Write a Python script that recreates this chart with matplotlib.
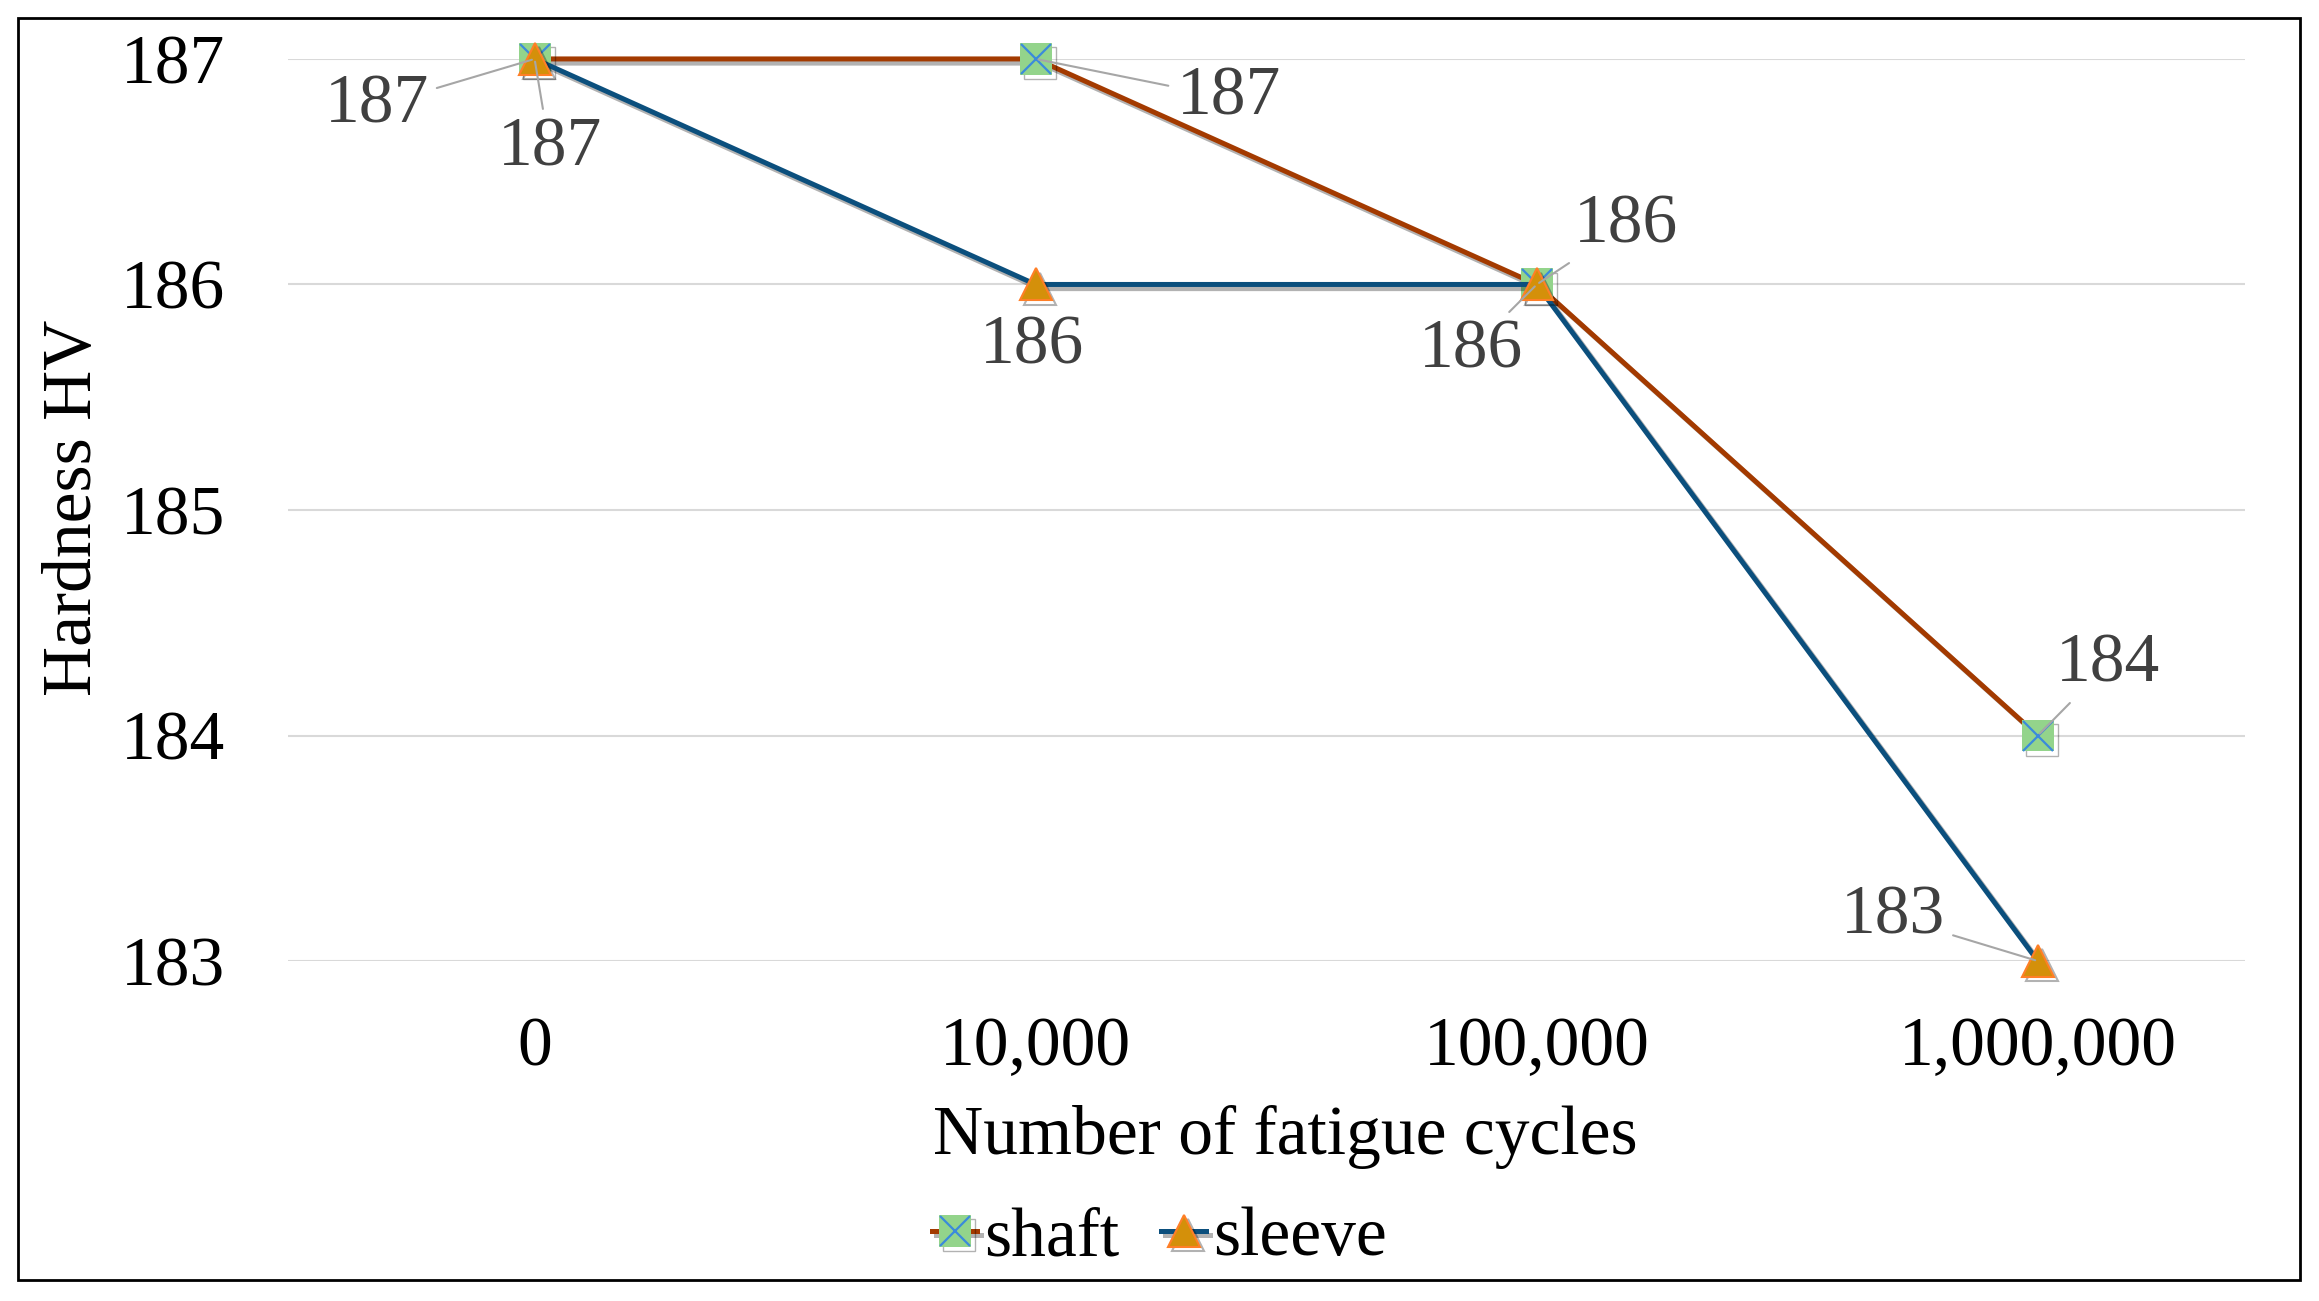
from matplotlib import pyplot as plt
from matplotlib import patheffects as pe
from matplotlib.patches import Rectangle
from matplotlib.legend_handler import HandlerTuple

cycles = ['0', '10,000', '100,000', '1,000,000']
shaft = [187, 187, 186, 184]
sleeve = [187, 186, 186, 183]

# label offsets in pixels (text centre relative to the point)
shaft_offsets = [(-158, -47), (193, -39), (89, 59), (70, 71)]
sleeve_offsets = [(15, -90), (-4, -62), (-66, -66), (-145, 44)]

plt.rcParams['font.family'] = ['Liberation Serif', 'DejaVu Serif']

fig = plt.figure(figsize=(23.19, 13.01), dpi=100)
ax = fig.add_axes([0.124, 0.2613, 0.844, 0.6934])

shadow = [pe.SimpleLineShadow(offset=(3, -3), shadow_color='black', alpha=0.3), pe.Normal()]

x = list(range(len(cycles)))
shaft_line, = ax.plot(x, shaft, color='#A33A00', lw=3.6, marker='s', ms=23,
                      mfc='#93D48B', mec='none', zorder=3, path_effects=shadow, clip_on=False)
shaft_x, = ax.plot(x, shaft, ls='none', marker='x', ms=21, mec='#3B8BDB', mew=1.6,
                   zorder=4, clip_on=False)
sleeve_line, = ax.plot(x, sleeve, color='#0B4F7D', lw=3.6, marker='^', ms=23,
                       mfc='#D4900A', mec='#FF7F27', mew=1.5, zorder=5, path_effects=shadow,
                       clip_on=False)

lab = dict(fontsize=50, color='#404040', ha='center', va='center', textcoords='offset pixels')
leader = dict(arrowstyle='-', color='#A6A6A6', lw=1.5, shrinkA=4, shrinkB=2)
for i, v in enumerate(shaft):
    ax.annotate(str(v), (i, v), xytext=shaft_offsets[i], arrowprops=leader, zorder=6, **lab)
for i, v in enumerate(sleeve):
    ap = None if i == 1 else leader
    ax.annotate(str(v), (i, v), xytext=sleeve_offsets[i], arrowprops=ap, zorder=6, **lab)

ax.set_xlim(-0.493, len(cycles) - 0.587)
ax.set_ylim(183, 187)
ax.set_yticks([183, 184, 185, 186, 187])
ax.set_xticks(x)
ax.set_xticklabels(cycles)
ax.tick_params(length=0, labelsize=50, pad=45)
ax.tick_params(axis='x', pad=40)
ax.grid(axis='y', color='#D9D9D9', lw=1.5)
ax.set_axisbelow(True)
for s in ax.spines.values():
    s.set_visible(False)

ax.set_xlabel('Number of fatigue cycles', fontsize=50)
ax.xaxis.set_label_coords(0.51, -0.16)
fig.text(0.032, 0.61, 'Hardness HV', rotation=90, fontsize=50, ha='center', va='center')

fig.legend([(shaft_line, shaft_x), sleeve_line], ['shaft', 'sleeve'],
           handler_map={tuple: HandlerTuple(ndivide=1)}, loc='center',
           bbox_to_anchor=(0.5, 0.048), ncol=2, frameon=False, fontsize=50,
           handlelength=0.65, handletextpad=0.1, columnspacing=0.6)

fig.patches.append(Rectangle((18 / 2319, 1 - 1280 / 1301), 2282 / 2319, 1262 / 1301,
                             transform=fig.transFigure, fill=False, ec='black', lw=2))

fig.savefig('out.png', dpi=100)
